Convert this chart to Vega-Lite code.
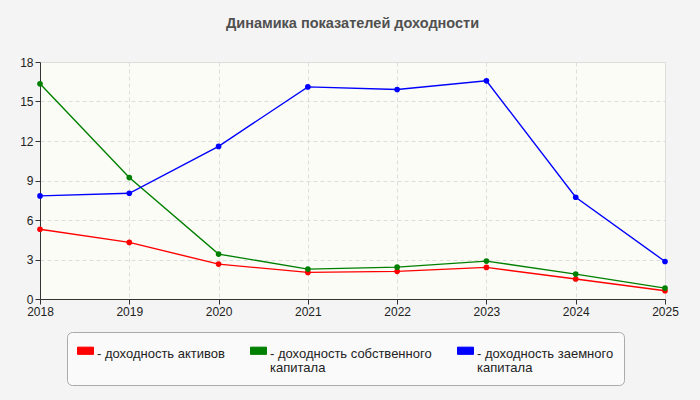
{
  "$schema": "https://vega.github.io/schema/vega-lite/v6.json",
  "description": "Динамика показателей доходности",
  "autosize": "none",
  "width": 625,
  "height": 237,
  "padding": {"left": 40, "top": 62, "right": 35, "bottom": 101},
  "background": "#f4f4f4",
  "title": {
    "text": "Динамика показателей доходности",
    "font": "Liberation Sans",
    "fontSize": 14.5,
    "fontWeight": "bold",
    "color": "#505050",
    "anchor": "middle",
    "offset": 25
  },
  "config": {
    "font": "Liberation Sans",
    "view": {"fill": "#fcfcf6", "stroke": "#dddddd"},
    "axis": {
      "labelFont": "Liberation Sans",
      "labelFontSize": 12,
      "labelColor": "#222222",
      "domainColor": "#333333",
      "tickColor": "#333333",
      "tickSize": 5,
      "gridColor": "#dddddd",
      "gridDash": [4, 3],
      "title": null
    }
  },
  "data": {
    "values": [
      {"year": "2018", "series": "доходность активов", "value": 5.3},
      {"year": "2019", "series": "доходность активов", "value": 4.3},
      {"year": "2020", "series": "доходность активов", "value": 2.65},
      {"year": "2021", "series": "доходность активов", "value": 2.02},
      {"year": "2022", "series": "доходность активов", "value": 2.1},
      {"year": "2023", "series": "доходность активов", "value": 2.4},
      {"year": "2024", "series": "доходность активов", "value": 1.52},
      {"year": "2025", "series": "доходность активов", "value": 0.63},
      {"year": "2018", "series": "доходность собственного капитала", "value": 16.34},
      {"year": "2019", "series": "доходность собственного капитала", "value": 9.22},
      {"year": "2020", "series": "доходность собственного капитала", "value": 3.41},
      {"year": "2021", "series": "доходность собственного капитала", "value": 2.27},
      {"year": "2022", "series": "доходность собственного капитала", "value": 2.42},
      {"year": "2023", "series": "доходность собственного капитала", "value": 2.88},
      {"year": "2024", "series": "доходность собственного капитала", "value": 1.89},
      {"year": "2025", "series": "доходность собственного капитала", "value": 0.83},
      {"year": "2018", "series": "доходность заемного капитала", "value": 7.83},
      {"year": "2019", "series": "доходность заемного капитала", "value": 8.03},
      {"year": "2020", "series": "доходность заемного капитала", "value": 11.59},
      {"year": "2021", "series": "доходность заемного капитала", "value": 16.11},
      {"year": "2022", "series": "доходность заемного капитала", "value": 15.91},
      {"year": "2023", "series": "доходность заемного капитала", "value": 16.57},
      {"year": "2024", "series": "доходность заемного капитала", "value": 7.73},
      {"year": "2025", "series": "доходность заемного капитала", "value": 2.85}
    ]
  },
  "encoding": {
    "x": {
      "field": "year",
      "type": "ordinal",
      "scale": {"type": "point", "padding": 0},
      "axis": {"labelAngle": 0, "grid": true, "labelPadding": 2}
    },
    "y": {
      "field": "value",
      "type": "quantitative",
      "scale": {"domain": [0, 18]},
      "axis": {"values": [0, 3, 6, 9, 12, 15, 18], "grid": true, "labelPadding": 2}
    },
    "color": {
      "field": "series",
      "type": "nominal",
      "scale": {
        "domain": ["доходность активов", "доходность собственного капитала", "доходность заемного капитала"],
        "range": ["#ff0000", "#008000", "#0000ff"]
      },
      "legend": {
        "title": null,
        "orient": "none",
        "legendX": 27,
        "legendY": 270,
        "direction": "horizontal",
        "columns": 3,
        "columnPadding": 23,
        "fillColor": "#fafafa",
        "strokeColor": "#aaaaaa",
        "cornerRadius": 5,
        "padding": 10,
        "symbolType": "M-1,-0.45H1V0.45H-1Z",
        "symbolSize": 256,
        "symbolStrokeColor": "#777777",
        "symbolStrokeWidth": 1,
        "labelFont": "Liberation Sans",
        "labelFontSize": 13,
        "labelColor": "#222222",
        "labelLimit": 300,
        "labelOffset": 3,
        "labelBaseline": "middle",
        "labelExpr": "datum.value == 'доходность активов' ? ['- доходность активов', ''] : datum.value == 'доходность собственного капитала' ? ['- доходность собственного', '\u00a0\u00a0капитала'] : ['- доходность заемного', '\u00a0\u00a0капитала']",
        "encode": {
          "labels": {
            "update": {
              "lineHeight": {"value": 14},
              "dy": {"value": 3}
            }
          }
        }
      }
    }
  },
  "layer": [
    {"mark": {"type": "line", "strokeWidth": 1.4}},
    {"mark": {"type": "point", "filled": true, "opacity": 1, "size": 32}}
  ]
}
